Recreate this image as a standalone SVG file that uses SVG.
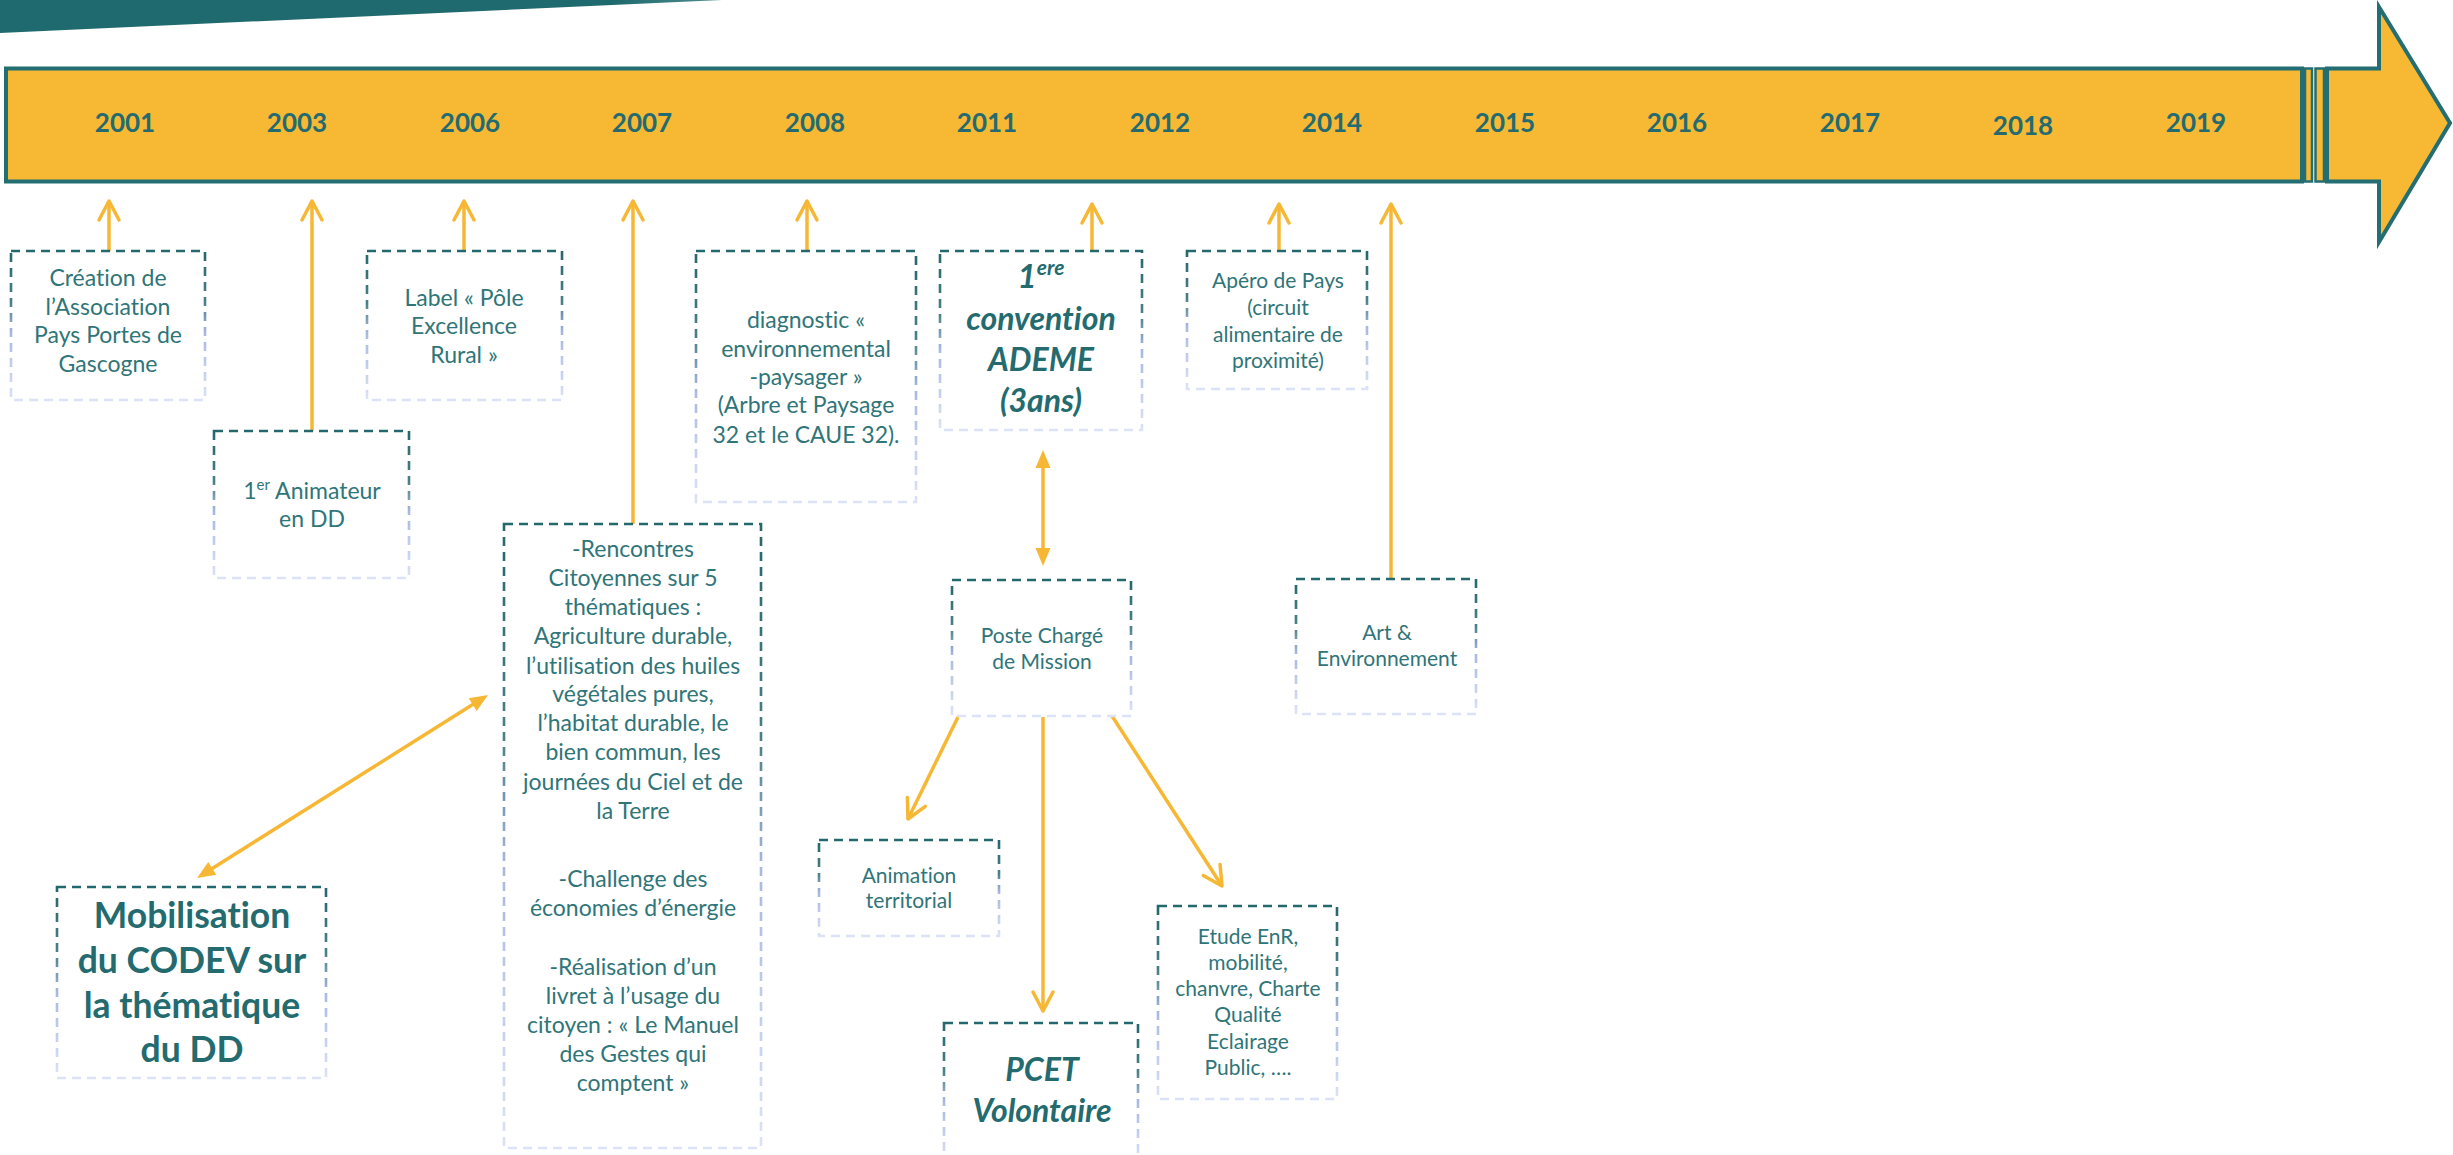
<svg xmlns="http://www.w3.org/2000/svg" width="2453" height="1155" viewBox="0 0 2453 1155">
<defs>
<style>
.box{fill:#fff;stroke:url(#bd);stroke-width:2.6;stroke-dasharray:9 6}
.t{font-family:Lato,'Liberation Sans',sans-serif;fill:#2F7579;font-size:23px;text-anchor:middle;font-variant-ligatures:none;font-feature-settings:"liga" 0,"clig" 0}
.s{font-size:21px}
.b{font-weight:700;fill:#236B6F}
.bi{font-weight:700;font-style:italic;fill:#236B6F}
.yr{font-family:Lato,'Liberation Sans',sans-serif;font-weight:700;font-size:26px;fill:#236B70;text-anchor:middle}
.ln{fill:none;stroke:#F6B834;stroke-width:3.5}
.one{marker-end:url(#v)}
.two{marker-start:url(#tri);marker-end:url(#tri)}
</style>
<linearGradient id="bd" x1="0" y1="0" x2="0" y2="1">
<stop offset="0" stop-color="#24676C"/>
<stop offset="0.35" stop-color="#4A8088"/>
<stop offset="0.55" stop-color="#A8B8E0"/>
<stop offset="1" stop-color="#DCE2F7"/>
</linearGradient>
<linearGradient id="ban" x1="0" y1="0" x2="1" y2="0">
<stop offset="0" stop-color="#1F6A6E"/>
<stop offset="0.85" stop-color="#1F6A6E"/>
<stop offset="1" stop-color="#4F8E91"/>
</linearGradient>
<marker id="v" viewBox="-24 -13 27 26" refX="0" refY="0" markerWidth="27" markerHeight="26" markerUnits="userSpaceOnUse" orient="auto">
<path d="M-19,-10 L0,0 L-19,10" fill="none" stroke="#F6B834" stroke-width="3.5" stroke-linecap="round" stroke-linejoin="round"/>
</marker>
<marker id="tri" viewBox="-20 -10 22 20" refX="-10" refY="0" markerWidth="22" markerHeight="20" markerUnits="userSpaceOnUse" orient="auto-start-reverse">
<path d="M-18,-7.5 L0,0 L-18,7.5 Z" fill="#F6B834"/>
</marker>
</defs>

<g id="banner">
<polygon points="0,0 722,0 0,33" fill="url(#ban)"/>
</g>

<g id="timeline">
<rect x="6" y="68.5" width="2296" height="113" fill="#F7B933" stroke="#236E72" stroke-width="4"/>
<rect x="2305" y="68.5" width="7" height="113" fill="#F7B933" stroke="#236E72" stroke-width="2.5"/>
<rect x="2315.5" y="68.5" width="8.5" height="113" fill="#F7B933" stroke="#236E72" stroke-width="2.5"/>
<polygon points="2327,68.5 2379,68.5 2379,7 2450,123 2379,242 2379,181.5 2327,181.5" fill="#F7B933" stroke="#236E72" stroke-width="4" stroke-linejoin="miter"/>
<text class="yr" x="125" y="132">2001</text>
<text class="yr" x="297" y="132">2003</text>
<text class="yr" x="470" y="132">2006</text>
<text class="yr" x="642" y="132">2007</text>
<text class="yr" x="815" y="132">2008</text>
<text class="yr" x="987" y="132">2011</text>
<text class="yr" x="1160" y="132">2012</text>
<text class="yr" x="1332" y="132">2014</text>
<text class="yr" x="1505" y="132">2015</text>
<text class="yr" x="1677" y="132">2016</text>
<text class="yr" x="1850" y="132">2017</text>
<text class="yr" x="2023" y="135">2018</text>
<text class="yr" x="2196" y="132">2019</text>
</g>

<g id="connectors">
<line class="ln one" x1="109" y1="252" x2="109" y2="201"/>
<line class="ln one" x1="312" y1="431" x2="312" y2="201"/>
<line class="ln one" x1="464" y1="252" x2="464" y2="201"/>
<line class="ln one" x1="633" y1="524" x2="633" y2="201"/>
<line class="ln one" x1="807" y1="252" x2="807" y2="201"/>
<line class="ln one" x1="1092" y1="256" x2="1092" y2="204"/>
<line class="ln one" x1="1279" y1="252" x2="1279" y2="204"/>
<line class="ln one" x1="1391" y1="579" x2="1391" y2="204"/>
<line class="ln two" x1="205.5" y1="872.7" x2="479.5" y2="700.3"/>
<line class="ln two" x1="1043" y1="460" x2="1043" y2="556"/>
<line class="ln one" x1="958" y1="717" x2="908" y2="819"/>
<line class="ln one" x1="1043" y1="717" x2="1043" y2="1011"/>
<line class="ln one" x1="1112" y1="716" x2="1222" y2="886"/>
</g>

<g id="n-creation">
<rect class="box" x="11" y="251" width="194" height="149"/>
<text class="t"><tspan x="108" y="286">Création de</tspan><tspan x="108" y="315">l’Association</tspan><tspan x="108" y="343">Pays Portes de</tspan><tspan x="108" y="372">Gascogne</tspan></text>
</g>

<g id="n-animateur">
<rect class="box" x="214" y="431" width="195" height="147"/>
<text class="t"><tspan x="312" y="499">1<tspan font-size="15" dy="-9">er</tspan><tspan dy="9"> Animateur</tspan></tspan><tspan x="312" y="527">en DD</tspan></text>
</g>

<g id="n-label">
<rect class="box" x="367" y="251" width="195" height="149"/>
<text class="t"><tspan x="464" y="306">Label « Pôle</tspan><tspan x="464" y="334">Excellence</tspan><tspan x="464" y="363">Rural »</tspan></text>
</g>

<g id="n-rencontres">
<rect class="box" x="504" y="524" width="257" height="624"/>
<text class="t"><tspan x="633" y="557">-Rencontres</tspan><tspan x="633" y="586">Citoyennes sur 5</tspan><tspan x="633" y="615">thématiques :</tspan><tspan x="633" y="644">Agriculture durable,</tspan><tspan x="633" y="674">l’utilisation des huiles</tspan><tspan x="633" y="702">végétales pures,</tspan><tspan x="633" y="731">l’habitat durable, le</tspan><tspan x="633" y="760">bien commun, les</tspan><tspan x="633" y="790">journées du Ciel et de</tspan><tspan x="633" y="819">la Terre</tspan><tspan x="633" y="887">-Challenge des</tspan><tspan x="633" y="916">économies d’énergie</tspan><tspan x="633" y="975">-Réalisation d’un</tspan><tspan x="633" y="1004">livret à l’usage du</tspan><tspan x="633" y="1033">citoyen : « Le Manuel</tspan><tspan x="633" y="1062">des Gestes qui</tspan><tspan x="633" y="1091">comptent »</tspan></text>
</g>

<g id="n-diagnostic">
<rect class="box" x="696" y="251" width="220" height="251"/>
<text class="t"><tspan x="806" y="328">diagnostic «</tspan><tspan x="806" y="357">environnemental</tspan><tspan x="806" y="385">-paysager »</tspan><tspan x="806" y="413">(Arbre et Paysage</tspan><tspan x="806" y="443">32 et le CAUE 32).</tspan></text>
</g>

<g id="n-ademe">
<rect class="box" x="940" y="251" width="202" height="179"/>
<text class="t bi"><tspan x="1041" y="288" font-size="33">1<tspan font-size="21" dy="-13">ere</tspan></tspan><tspan x="1041" y="330" font-size="32">convention</tspan><tspan x="1041" y="371" font-size="32">ADEME</tspan><tspan x="1041" y="412" font-size="32">(3ans)</tspan></text>
</g>

<g id="n-apero">
<rect class="box" x="1187" y="251" width="180" height="138"/>
<text class="t s"><tspan x="1278" y="288">Apéro de Pays</tspan><tspan x="1278" y="315">(circuit</tspan><tspan x="1278" y="342">alimentaire de</tspan><tspan x="1278" y="368">proximité)</tspan></text>
</g>

<g id="n-poste">
<rect class="box" x="952" y="580" width="179" height="136"/>
<text class="t s"><tspan x="1042" y="643">Poste Chargé</tspan><tspan x="1042" y="669">de Mission</tspan></text>
</g>

<g id="n-art">
<rect class="box" x="1296" y="579" width="180" height="135"/>
<text class="t s"><tspan x="1387" y="640">Art &amp;</tspan><tspan x="1387" y="666">Environnement</tspan></text>
</g>

<g id="n-mobilisation">
<rect class="box" x="57" y="887" width="269" height="191"/>
<text class="t b"><tspan x="192" y="928" font-size="35.5">Mobilisation</tspan><tspan x="192" y="973" font-size="35.5">du CODEV sur</tspan><tspan x="192" y="1018" font-size="35.5">la thématique</tspan><tspan x="192" y="1062" font-size="35.5">du DD</tspan></text>
</g>

<g id="n-animation">
<rect class="box" x="819" y="840" width="180" height="96"/>
<text class="t s"><tspan x="909" y="883">Animation</tspan><tspan x="909" y="908">territorial</tspan></text>
</g>

<g id="n-pcet">
<rect class="box" x="944" y="1023" width="194" height="140"/>
<text class="t bi"><tspan x="1042" y="1081" font-size="32">PCET</tspan><tspan x="1042" y="1122" font-size="32">Volontaire</tspan></text>
</g>

<g id="n-etude">
<rect class="box" x="1158" y="906" width="179" height="193"/>
<text class="t s"><tspan x="1248" y="944">Etude EnR,</tspan><tspan x="1248" y="970">mobilité,</tspan><tspan x="1248" y="996">chanvre, Charte</tspan><tspan x="1248" y="1022">Qualité</tspan><tspan x="1248" y="1049">Eclairage</tspan><tspan x="1248" y="1075">Public, ….</tspan></text>
</g>
</svg>
